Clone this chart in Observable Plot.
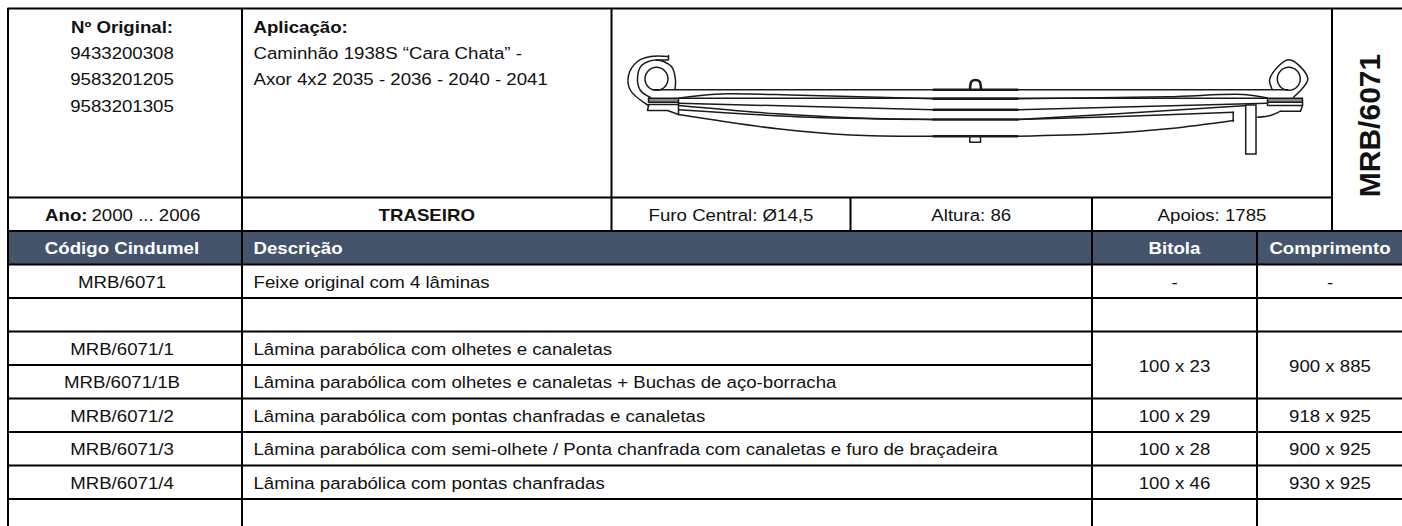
<!DOCTYPE html>
<html><head><meta charset="utf-8">
<script src="https://cdn.jsdelivr.net/npm/d3@7"></script>
<script src="https://cdn.jsdelivr.net/npm/@observablehq/plot@0.6"></script>
<style>html,body{margin:0;padding:0;background:#fff}svg{display:block}</style>
</head><body><div id="chart"></div>
<script>
// ---- table content
const originalNumbers = ["9433200308","9583201205","9583201305"];
const applicationLines = ["Caminhão 1938S “Cara Chata” -","Axor 4x2 2035 - 2036 - 2040 - 2041"];
const specCells = ["Furo Central: Ø14,5","Altura: 86","Apoios: 1785"];
const headerLabels = ["Código Cindumel","Bitola","Comprimento"];
const codes = ["MRB/6071","","MRB/6071/1","MRB/6071/1B","MRB/6071/2","MRB/6071/3","MRB/6071/4"];
const descriptions = ["Feixe original com 4 lâminas","",
 "Lâmina parabólica com olhetes e canaletas",
 "Lâmina parabólica com olhetes e canaletas + Buchas de aço-borracha",
 "Lâmina parabólica com pontas chanfradas e canaletas",
 "Lâmina parabólica com semi-olhete / Ponta chanfrada com canaletas e furo de braçadeira",
 "Lâmina parabólica com pontas chanfradas"];
const bitolas = ["-","","100 x 23",null,"100 x 29","100 x 28","100 x 46"];
const comprimentos = ["-","","900 x 885",null,"918 x 925","900 x 925","930 x 925"];

// ---- spring drawing
const smoothStrokes = [
 [[674.5,89],[675,80],[671,66],[656,59.5],[641,65],[637,78],[640,90],[650,97]],
 [[668,56],[650,56],[637,61],[628,75],[630,90],[648,105]],
 [[1271.7,89],[1269.3,78.3],[1288.3,59.3],[1307.3,78.3],[1293,96.7]],
 [[678,97.7],[700,95],[727,93.3],[800,94.8],[933,98.3]],
 [[1017,98.3],[1167,96.2],[1243,94],[1267,97.5]],
 [[678,105],[777,113.3],[850,117.3],[933,119]],
 [[1017,119],[1117,113.3],[1247,105]],
 [[678,109.3],[810,116.7],[933,119]],
 [[1017,119],[1120,116],[1233,111.7]],
 [[678,114],[777,128.3],[850,134.5],[933,135.7]],
 [[1017,135.7],[1100,133.3],[1170,128],[1233,120]],
 [[1257,116.7],[1270,115],[1280,110.7]]
];
const straightStrokes = [
 [[653,89.3],[1287,89.3]],
 [[678,97.7],[1267,97.7]],
 [[678,102.7],[933,109.3],[1017,109.3],[1267,102.7]],
 [[648,97.7],[678,97.7],[678,114]],
 [[648,97.7],[648,101.7],[678,101.7]],
 [[648,105],[647,110],[667,110],[678,114]],
 [[648,104],[678,104]],
 [[1267,97.7],[1302,97.7],[1302,105],[1267,105],[1267,97.7]],
 [[1267,101.7],[1302,101.7]],
 [[1302,105],[1300,110.7],[1280,110.7]],
 [[1232.7,111.7],[1232.7,120.7]],
 [[668,55],[668,59.5],[656,59.5]],
 [[969.3,135.7],[969.3,141.7],[980,141.7],[980,135.7]]
];
const thickStrokes = [
 [[933,89.3],[1017,89.3]],
 [[933,98.2],[1017,98.2]],
 [[933,109.3],[1017,109.3]],
 [[933,119],[1017,119]],
 [[933,135.7],[1017,135.7]]
];
const bolt = [[969.5,89.3],[971,81],[975,79.5],[979,81],[980.5,89.3]];
const eyes = [[656,78.3],[1288.3,78.3]];
const pads = [{x1:648,x2:678,y1:98,y2:102},{x1:1267,x2:1302,y1:98,y2:102}];

// ---- layout
const W = 1402, H = 526;
const left = 7.5, colA = 241.5, colImg = 611, colF = 850, colB = 1091.5, colC = 1256.5, colR = 1331.5;
const yTop = 8, yImg = 197, yHead = 230.5, rowH = 33.5;
const cx0 = 121.5, dy = 1.4;
const yRow = i => yHead + rowH * (i + 1);
const font = "'Liberation Sans', Arial, sans-serif";
const fs = 16.3, stretch = 1.145;
const tx = {fontSize: fs, fill: "#111", lineAnchor: "middle", fontFamily: font};
const txB = {...tx, fontWeight: "bold"};

const rows = codes.map((c,i)=>({c, d:descriptions[i], b:bitolas[i], l:comprimentos[i], y:yRow(i)+rowH/2+dy}));
const spanRow = 2;

const hRules = [
 {y:yTop,x1:left,x2:W}, {y:yImg,x1:left,x2:colR}, {y:yHead,x1:left,x2:W}, {y:yRow(0),x1:left,x2:W}
];
for (let i=1;i<=7;i++){ hRules.push(i===spanRow+1 ? {y:yRow(i),x1:left,x2:colB} : {y:yRow(i),x1:left,x2:W}); }
const vRules = [
 {x:left,y1:yTop,y2:H},{x:colA,y1:yTop,y2:H},
 {x:colImg,y1:yTop,y2:yHead},{x:colF,y1:yImg,y2:yHead},
 {x:colB,y1:yImg,y2:H},{x:colC,y1:yHead,y2:H},{x:colR,y1:yTop,y2:yHead}
];
const line = (arr,opts)=>arr.map(p=>Plot.line(p,{x:d=>d[0],y:d=>d[1],stroke:"#1a1a1a",...opts}));

const chart = Plot.plot({
 width:W,height:H,margin:0,
 x:{domain:[0,W],range:[0,W],axis:null},
 y:{domain:[0,H],range:[0,H],axis:null},
 style:{background:"#fff",fontFamily:font},
 marks:[
  Plot.rect([{x1:left,x2:W,y1:yHead,y2:yRow(0)}],{x1:"x1",x2:"x2",y1:"y1",y2:"y2",fill:"#44546a"}),
  // spring
  Plot.rect(pads,{x1:"x1",x2:"x2",y1:"y1",y2:"y2",fill:"#8a8a8a"}),
  ...line(smoothStrokes,{curve:"catmull-rom",strokeWidth:1.5}),
  ...line(straightStrokes,{strokeWidth:1.5}),
  Plot.rect([{x1:1245.7,x2:1256,y1:105,y2:154}],{x1:"x1",x2:"x2",y1:"y1",y2:"y2",fill:"#fff",stroke:"#1a1a1a",strokeWidth:1.5}),
  ...line(thickStrokes,{strokeWidth:2.4}),
  Plot.line(bolt,{x:d=>d[0],y:d=>d[1],curve:"catmull-rom",stroke:"#1a1a1a",strokeWidth:2.6}),
  Plot.dot(eyes,{x:d=>d[0],y:d=>d[1],r:11.5,stroke:"#1a1a1a",strokeWidth:1.5,fill:"none"}),
  // grid
  Plot.ruleY(hRules,{y:"y",x1:"x1",x2:"x2",stroke:"#000",strokeWidth:2}),
  Plot.ruleX(vRules,{x:"x",y1:"y1",y2:"y2",stroke:"#000",strokeWidth:2}),
  // top panel
  Plot.text(["Nº Original:"],{x:cx0,y:27,text:d=>d,textAnchor:"middle",...txB}),
  Plot.text(originalNumbers,{x:cx0,y:(d,i)=>53+i*26.5,text:d=>d,textAnchor:"middle",...tx}),
  Plot.text(["Aplicação:"],{x:253,y:27,text:d=>d,textAnchor:"start",...txB}),
  Plot.text(applicationLines,{x:253,y:(d,i)=>53+i*26.5,text:d=>d,textAnchor:"start",...tx}),
  Plot.text(["MRB/6071"],{x:1370,y:125,text:d=>d,rotate:-90,textAnchor:"middle",lineAnchor:"middle",fontSize:30,fontWeight:"bold",fill:"#111",fontFamily:font,className:"nostretch"}),
  // spec row
  Plot.text(["Ano:"],{x:87,y:yImg+rowH/2+dy,text:d=>d,textAnchor:"end",...txB}),
  Plot.text(["2000 ... 2006"],{x:91,y:yImg+rowH/2+dy,text:d=>d,textAnchor:"start",...tx}),
  Plot.text(["TRASEIRO"],{x:(colA+colImg)/2,y:yImg+rowH/2+dy,text:d=>d,textAnchor:"middle",...txB}),
  Plot.text(specCells,{x:(d,i)=>[(colImg+colF)/2,(colF+colB)/2,(colB+colR)/2][i],y:yImg+rowH/2+dy,text:d=>d,textAnchor:"middle",...tx}),
  // header
  Plot.text(headerLabels,{x:(d,i)=>[cx0,(colB+colC)/2,1329.5][i],y:yHead+rowH/2+dy,text:d=>d,
    textAnchor:"middle",...txB,fill:"#fff"}),
  Plot.text(["Descrição"],{x:253,y:yHead+rowH/2+dy,text:d=>d,textAnchor:"start",...txB,fill:"#fff"}),
  // rows
  Plot.text(rows,{x:cx0,y:"y",text:"c",textAnchor:"middle",...tx}),
  Plot.text(rows,{x:253,y:"y",text:"d",textAnchor:"start",...tx}),
  Plot.text(rows,{x:(colB+colC)/2,y:(d,i)=>i===spanRow?yRow(i+1)+dy:d.y,text:"b",textAnchor:"middle",...tx}),
  Plot.text(rows,{x:1329.5,y:(d,i)=>i===spanRow?yRow(i+1)+dy:d.y,text:"l",textAnchor:"middle",...tx})
 ]
});
document.getElementById("chart").append(chart);
// the source picture is a horizontally widened scan: widen the table text the same way
chart.querySelectorAll("text").forEach(t=>{
  if (t.closest(".nostretch")) return;
  const n=t.getComputedTextLength();
  if(n>0){t.setAttribute("textLength",(n*stretch).toFixed(1));t.setAttribute("lengthAdjust","spacingAndGlyphs");}
});
</script></body></html>
